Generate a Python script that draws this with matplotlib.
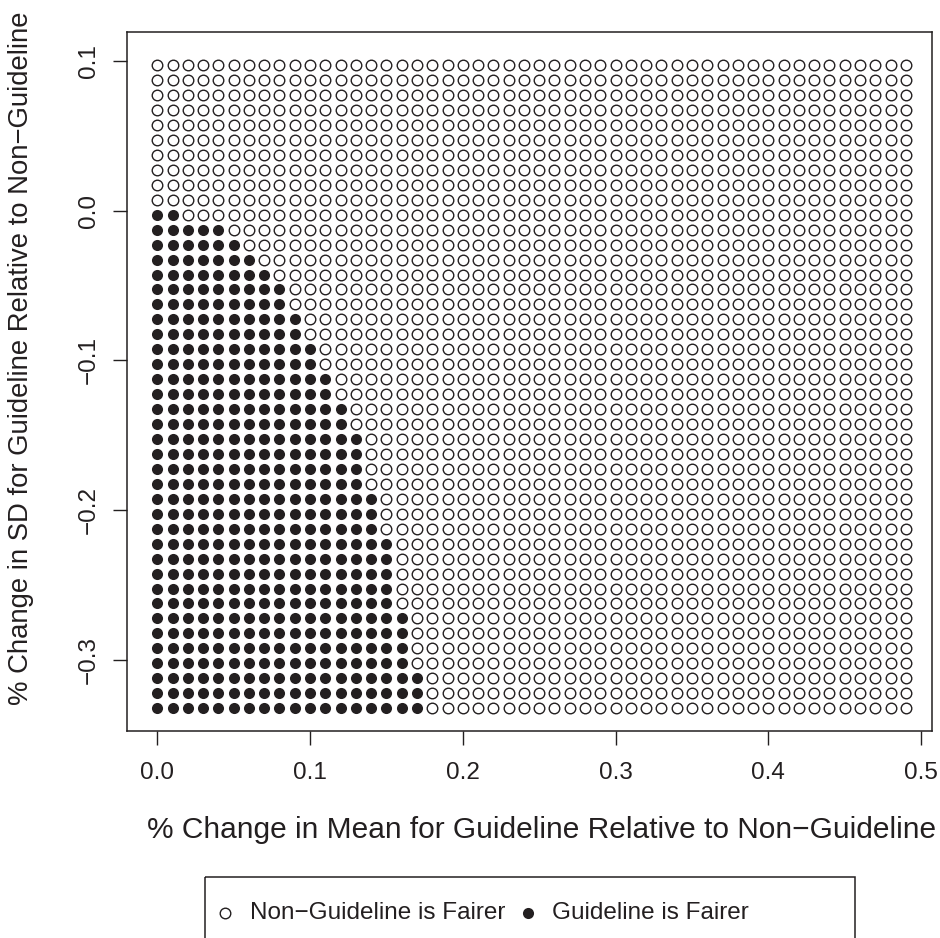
import numpy as np
import matplotlib
matplotlib.use("Agg")
import matplotlib.pyplot as plt
from matplotlib.patches import Rectangle

plt.rcParams['font.family'] = ['Liberation Sans', 'DejaVu Sans']

# grid of % change in mean (columns) and % change in SD (rows)
mean_change = np.round(np.arange(0, 0.50, 0.01), 2)
sd_change = np.round(np.arange(0.0975, -0.3326, -0.01), 4)

# number of mean-change levels (from 0) where the guideline is fairer, per SD row
n_fairer = [0] * 10 + [2, 5, 6, 7, 8, 9, 9, 10, 10, 11, 11, 12, 12, 13, 13,
                       14, 14, 14, 14, 15, 15, 15, 16, 16, 16, 16, 16,
                       17, 17, 17, 17, 18, 18, 18]

xticks = [0.0, 0.1, 0.2, 0.3, 0.4, 0.5]
yticks = [-0.3, -0.2, -0.1, 0.0, 0.1]

ink = '#231f20'

W, H = 940, 938
fig = plt.figure(figsize=(W / 100, H / 100), dpi=100)
ax = fig.add_axes([127.3 / W, 1 - 731 / H, (932.3 - 127.3) / W, (731 - 32) / H])

xx, yy = np.meshgrid(mean_change, sd_change)
fair = np.array([[j < n for j in range(len(mean_change))] for n in n_fairer])

ax.plot(xx[~fair], yy[~fair], 'o', ls='none', ms=7.6, mfc='white',
        mec=ink, mew=1.0)
ax.plot(xx[fair], yy[fair], 'o', ls='none', ms=8.0, mfc=ink, mec=ink, mew=0)

ax.set_xlim(-0.0196, 0.5073)
ax.set_ylim(-0.3478, 0.1197)
ax.set_xticks(xticks)
ax.set_xticklabels(['%.1f' % t for t in xticks])
ax.set_yticks(yticks)
ax.set_yticklabels([('%.1f' % t).replace('-', '\u2212') for t in yticks],
                   rotation=90, va='center')
ax.tick_params(length=10, width=1.0, color=ink, labelsize=17.5, pad=12,
               labelcolor=ink)
ax.tick_params(axis='y', pad=10)
for s in ax.spines.values():
    s.set_linewidth(1.1)
    s.set_color(ink)

# overlay in pixel coordinates for labels and legend outside the box
ov = fig.add_axes([0, 0, 1, 1])
ov.set_xlim(0, W)
ov.set_ylim(H, 0)
ov.axis('off')

ov.text(147, 830, '% Change in Mean for Guideline Relative to Non\u2212Guideline',
        fontsize=21.5, color=ink, ha='left', va='center')
ov.text(21, 705, '% Change in SD for Guideline Relative to Non\u2212Guideline',
        fontsize=19.8, color=ink, rotation=90, rotation_mode='anchor',
        ha='left', va='center')

ov.add_patch(Rectangle((205, 877), 650, 80, fill=False, ec=ink, lw=1.1,
                       clip_on=False))
ov.plot([225], [913], 'o', ms=7.6, mfc='white', mec=ink, mew=1.0)
ov.plot([528], [913], 'o', ms=8.0, mfc=ink, mew=0)
ov.text(250, 913, 'Non\u2212Guideline is Fairer', fontsize=17.5, color=ink,
        ha='left', va='center')
ov.text(552, 913, 'Guideline is Fairer', fontsize=17.5, color=ink,
        ha='left', va='center')

fig.savefig('out.png', dpi=100)
